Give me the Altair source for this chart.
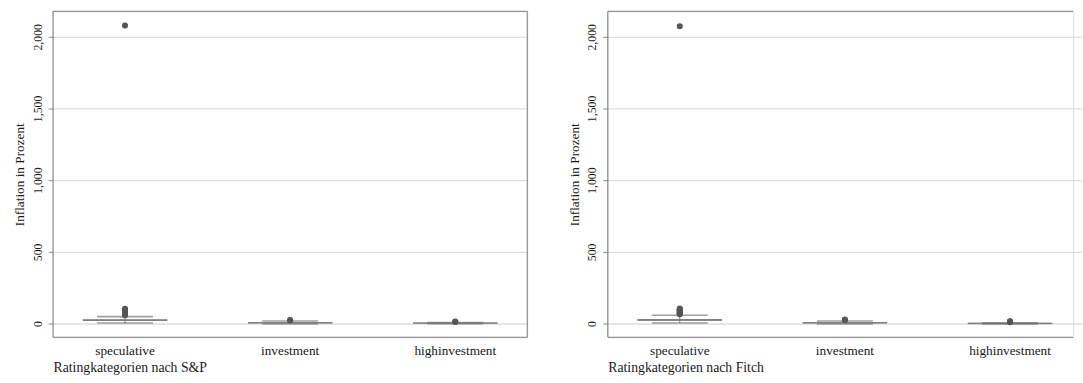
import altair as alt
import pandas as pd

# ---- data ----
cats = ["speculative", "investment", "highinvestment"]

# S&P panel
sp_lo = [3, -4, -2]
sp_q1 = [20, 3, 1]
sp_med = [24, 5, 3]
sp_q3 = [28, 8, 5]
sp_hi = [48, 18, 7]
sp_out_cat = ["speculative"] * 12 + ["investment", "investment", "highinvestment", "highinvestment"]
sp_out_val = [57, 61, 65, 69, 73, 77, 81, 86, 91, 96, 102, 2078, 21, 24, 10, 13]

# Fitch panel
fi_lo = [3, -4, -3]
fi_q1 = [20, 3, -1]
fi_med = [25, 5, 1]
fi_q3 = [30, 8, 3]
fi_hi = [57, 18, 5]
fi_out_cat = ["speculative"] * 12 + ["investment", "investment", "highinvestment", "highinvestment", "highinvestment"]
fi_out_val = [64, 68, 72, 76, 80, 84, 88, 92, 96, 100, 104, 2074, 24, 27, 9, 13, 16]

y_ticks = [0, 500, 1000, 1500, 2000]
y_title = "Inflation in Prozent"

FONT = "Liberation Serif"
TXT = "#1a1a1a"
FRAME = "#7a7a7a"
PW = 483   # full panel width (band layout)
PH = 332


def panel(lo, q1, med, q3, hi, out_cat, out_val, xtitle, view_w, right_border):
    stats = pd.DataFrame({"cat": cats, "lo": lo, "q1": q1, "med": med, "q3": q3, "hi": hi})
    outl = pd.DataFrame({"cat": out_cat, "val": out_val})
    one = pd.DataFrame({"k": [0]})

    xscale = alt.Scale(domain=cats, paddingInner=0.4, paddingOuter=0.136, range=[0, PW])
    yscale = alt.Scale(domain=[-96, 2178], nice=False, zero=False)
    xax = alt.Axis(title=xtitle, labelAngle=0, ticks=False, tickSize=0, domain=False,
                   labelFont=FONT, labelFontSize=13.5, labelColor=TXT, labelPadding=7,
                   titleFont=FONT, titleFontSize=14, titleFontWeight="normal", titleColor=TXT,
                   titleAnchor="start", titleAlign="left", titlePadding=3, grid=False)
    yax = alt.Axis(title=y_title, values=y_ticks, format=",.0f", labelAngle=270,
                   labelAlign="center", labelBaseline="bottom", labelFont=FONT,
                   labelFontSize=12, labelColor=TXT, labelPadding=4, tickSize=5,
                   tickColor="#888888", domain=False, grid=True, gridColor="#dedede",
                   gridWidth=1.3, titleFont=FONT, titleFontSize=13.5, titleFontWeight="normal",
                   titleColor=TXT, titlePadding=5)

    x = alt.X("cat:N", scale=xscale, axis=xax, sort=cats)
    base = alt.Chart(stats)

    whisk = base.mark_rule(color="#777777", strokeWidth=1).encode(
        x=x, y=alt.Y("lo:Q", scale=yscale, axis=yax), y2="hi:Q")
    box = base.mark_bar(size=86, color="#8c8c8c").encode(x=x, y="q1:Q", y2="q3:Q")
    cap_lo = base.mark_tick(size=57, thickness=1.6, color="#777777").encode(x=x, y="lo:Q")
    cap_hi = base.mark_tick(size=57, thickness=1.6, color="#777777").encode(x=x, y="hi:Q")
    median = base.mark_tick(size=86, thickness=1.8, color="#6e6e6e").encode(x=x, y="med:Q")
    pts = alt.Chart(outl).mark_circle(size=38, color="#555555", opacity=1).encode(
        x=alt.X("cat:N", scale=xscale, sort=cats), y="val:Q")

    fb = alt.Chart(one)
    frame = [
        fb.mark_rule(color=FRAME, strokeWidth=1).encode(x=alt.value(0), y=alt.value(0), y2=alt.value(PH)),
        fb.mark_rule(color=FRAME, strokeWidth=1).encode(x=alt.value(0), x2=alt.value(view_w), y=alt.value(0)),
        fb.mark_rule(color=FRAME, strokeWidth=1).encode(x=alt.value(0), x2=alt.value(view_w), y=alt.value(PH)),
    ]
    if right_border:
        frame.append(fb.mark_rule(color=FRAME, strokeWidth=1).encode(
            x=alt.value(view_w), y=alt.value(0), y2=alt.value(PH)))

    return alt.layer(whisk, box, cap_lo, cap_hi, median, pts, *frame).properties(
        width=view_w, height=PH)


left = panel(sp_lo, sp_q1, sp_med, sp_q3, sp_hi, sp_out_cat, sp_out_val,
             "Ratingkategorien nach S&P", PW, True)
right = panel(fi_lo, fi_q1, fi_med, fi_q3, fi_hi, fi_out_cat, fi_out_val,
              "Ratingkategorien nach Fitch", 474, False)

chart = alt.hconcat(left, right, spacing=39).properties(
    padding={"left": 12, "top": 7, "right": 0, "bottom": 0}
).configure_view(strokeWidth=0).configure(background="white")

chart.save("out.html", embed_options={"renderer": "svg", "actions": False})
